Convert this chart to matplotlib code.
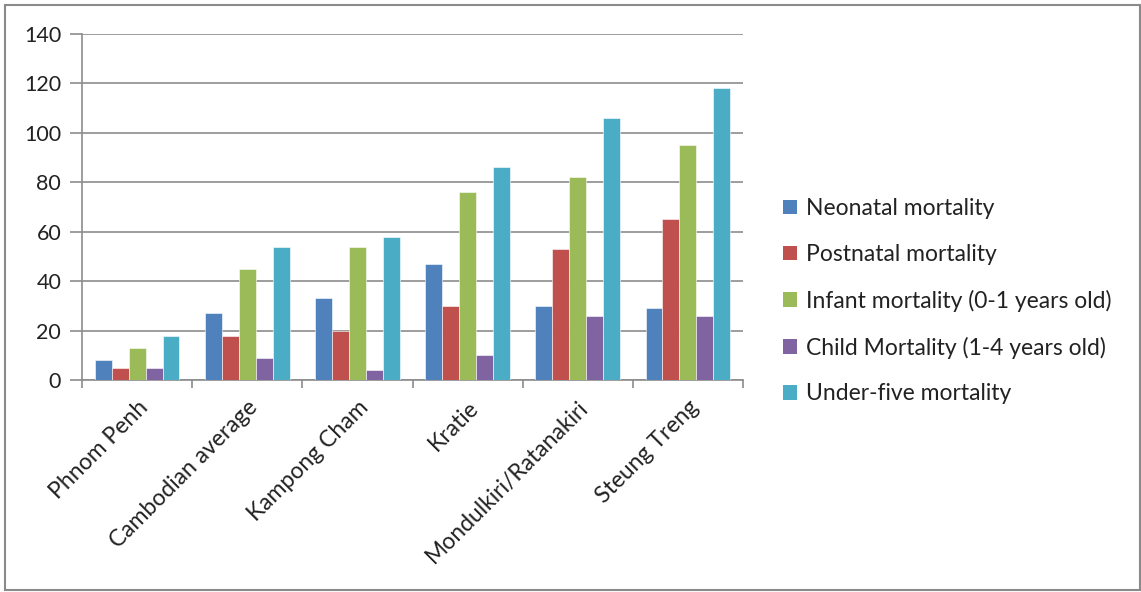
import matplotlib
matplotlib.use("Agg")
import matplotlib.pyplot as plt
import numpy as np
from matplotlib.patches import Rectangle, Patch

categories = ["Phnom Penh", "Cambodian average", "Kampong Cham", "Kratie",
              "Mondulkiri/Ratanakiri", "Steung Treng"]
series_names = ["Neonatal mortality", "Postnatal mortality",
                "Infant mortality (0-1 years old)",
                "Child Mortality (1-4 years old)", "Under-five mortality"]
neonatal = [8, 27, 33, 47, 30, 29]
postnatal = [5, 18, 20, 30, 53, 65]
infant = [13, 45, 54, 76, 82, 95]
child = [5, 9, 4, 10, 26, 26]
under_five = [18, 54, 58, 86, 106, 118]
yticks = [0, 20, 40, 60, 80, 100, 120, 140]

values = [neonatal, postnatal, infant, child, under_five]
colors = ["#4F81BD", "#C0504D", "#9BBB59", "#8064A2", "#4BACC6"]

plt.rcParams['font.family'] = ['Lato', 'DejaVu Sans']
txt = "#222222"

W, H = 1141, 592
fig = plt.figure(figsize=(W / 100, H / 100), dpi=100)
fig.patch.set_facecolor("white")
fig.patches.append(Rectangle((4.5 / W, 2 / H), (1139.5 - 4.5) / W, (587 - 2) / H,
                             transform=fig.transFigure, fill=False,
                             edgecolor="#8a8a8a", linewidth=1.5))

ax = fig.add_axes([82 / W, 1 - 380 / H, (743 - 82) / W, (380 - 34) / H])
x = np.arange(len(categories))
bw = 1 / 6.5
for i, (vals, c) in enumerate(zip(values, colors)):
    ax.bar(x + (i - 2) * bw, vals, width=bw, color=c, edgecolor="white",
           linewidth=0.4, zorder=3, label=series_names[i])

ax.set_xlim(-0.5, len(categories) - 0.5)
ax.set_ylim(0, 140)
ax.set_yticks(yticks)
ax.set_yticklabels([str(t) for t in yticks], fontsize=15.5, color=txt)
ax.yaxis.grid(True, color="#8c8c8c", linewidth=1.2, zorder=0)
ax.set_axisbelow(True)
for s in ["top", "right"]:
    ax.spines[s].set_visible(False)
for s in ["left", "bottom"]:
    ax.spines[s].set_color("#8c8c8c")
    ax.spines[s].set_linewidth(1.2)
ax.tick_params(axis="y", length=9, width=1.2, color="#8c8c8c", pad=6)

ax.set_xticks(x)
ax.set_xticklabels(categories, rotation=45, ha="right", rotation_mode="anchor",
                   fontsize=16.5, color=txt)
ax.tick_params(axis="x", which="major", length=0, pad=12)
ax.set_xticks(np.arange(-0.5, len(categories)), minor=True)
ax.tick_params(axis="x", which="minor", length=6, width=1.2, color="#8c8c8c")

handles = [Patch(facecolor=c, edgecolor="none") for c in colors]
leg = fig.legend(handles, series_names, loc="upper left",
                 bbox_to_anchor=(774 / W, 1 - 189 / H), frameon=False,
                 fontsize=16.5, handlelength=0.6, handleheight=0.6,
                 handletextpad=0.4, labelspacing=1.08, borderaxespad=0)
for t in leg.get_texts():
    t.set_color(txt)

fig.savefig("out.png", dpi=100, facecolor="white")
